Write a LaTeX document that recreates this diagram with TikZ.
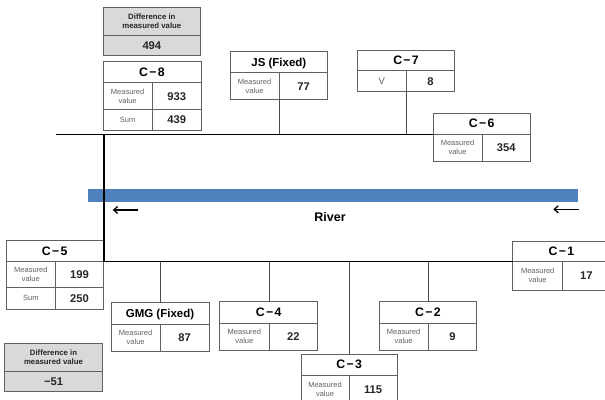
\documentclass[tikz,border=0pt]{standalone}
\usepackage{fontspec}
\setmainfont{Liberation Sans}
\usetikzlibrary{arrows.meta}
\tikzset{
 boxline/.style={draw=black!62, line width=0.8pt},
 difffill/.style={fill=black!15},
 ttl/.style={font=\fontsize{11.5}{13}\selectfont\bfseries, inner sep=0pt, text height=8.3pt, text depth=0pt},
 lbl/.style={font=\fontsize{7.5}{8.9}\selectfont, text=black!62, align=center, inner sep=0pt},
 val/.style={font=\fontsize{11.2}{13}\selectfont\bfseries, text=black!85, inner sep=0pt, text height=8pt, text depth=0pt},
 dtxt/.style={font=\fontsize{7.8}{9.8}\selectfont\bfseries, align=center, inner sep=0pt, text=black!85},
 bank/.style={line width=1.3pt, black},
 conn/.style={line width=0.8pt, black!70},
 riverbar/.style={fill={rgb,255:red,79;green,129;blue,189}, draw=none},
 flow/.style={line width=1.3pt, -{Straight Barb[length=4pt,width=7pt]}},
}
\def\lbltext{Measured\\value}
\newcommand{\cname}[1]{{\fontsize{12.3}{13}\selectfont C\kern1.3pt−\kern1.3pt#1}}
% #1 name, #2 x1, #3 x2, #4 xc, #5 ytop, #6 ydiv, #7 ybot, #8 title, #9 value
\newcommand{\twobox}[9]{%
 \path[boxline, fill=white] (#2,#5) rectangle (#3,#7);
 \draw[boxline] (#2,#6) -- (#3,#6) (#4,#6) -- (#4,#7);
 \coordinate (#1-cb) at (#4,#7);
 \coordinate (#1-ct) at (#4,#5);
 \coordinate (#1-w) at (#2,#6);
 \node[ttl] (#1) at ({(#2+#3)/2},{(#5+#6)/2}) {#8};
 \node[lbl] (#1-l) at ({(#2+#4)/2},{(#6+#7)/2}) {\lbltext};
 \node[val] (#1-v) at ({(#4+#3)/2},{(#6+#7)/2}) {#9};
}
% #1 name, #2 x1, #3 x2, #4 xc, #5 y1, #6 y2, #7 value
\newcommand{\sumrow}[7]{%
 \path[boxline, fill=white] (#2,#5) rectangle (#3,#6);
 \draw[boxline] (#4,#5) -- (#4,#6);
 \node[lbl] (#1-sl) at ({(#2+#4)/2},{(#5+#6)/2}) {Sum};
 \node[val] (#1-sv) at ({(#4+#3)/2},{(#5+#6)/2}) {#7};
}
% #1 name, #2 x1, #3 x2, #4 ytop, #5 ydiv, #6 ybot, #7 value
\newcommand{\diffbox}[7]{%
 \path[boxline, difffill] (#2,#4) rectangle (#3,#6);
 \draw[boxline] (#2,#5) -- (#3,#5);
 \node[dtxt] (#1) at ({(#2+#3)/2},{(#4+#5)/2}) {Difference in\\measured value};
 \node[val] (#1-v) at ({(#2+#3)/2},{(#5+#6)/2}) {#7};
}
\begin{document}
\begin{tikzpicture}[x=1pt,y=-1pt]
\useasboundingbox (0,0) rectangle (605,399);
\clip (0,0) rectangle (605,399);
\fill[white] (0,0) rectangle (605,399);

% river
\path[riverbar] (88.3,189.3) rectangle (578,201.7);
\node[font=\fontsize{12.5}{14}\selectfont\bfseries, inner sep=0pt] (river) at (330,216.7) {River};
\coordinate (a1s) at (138.3,210);
\coordinate (a1e) at (112.7,210);
\coordinate (a2s) at (578.7,209.3);
\coordinate (a2e) at (553.3,209.3);
\draw[flow] (a1s) -- (a1e);
\draw[flow] (a2s) -- (a2e);

% banks
\coordinate (tl) at (56,134.3);
\coordinate (tc) at (104,134.3);
\coordinate (bc) at (104,261.7);

% boxes
\diffbox{dtop}{103}{200.7}{7.3}{35}{55.7}{494}
\twobox{c8}{103}{201}{152.3}{61}{82.7}{109.3}{\cname{8}}{933}
\sumrow{c8}{103}{201}{152.3}{109.3}{130.3}{439}
\twobox{js}{230}{327.7}{279.3}{51.7}{72.7}{99.3}{JS (Fixed)}{77}
{\def\lbltext{\fontsize{9.5}{10}\selectfont V}%
\twobox{c7}{357.3}{454.7}{406.3}{50}{70.7}{91.7}{\cname{7}}{8}}
\twobox{c6}{433}{530.3}{482}{113}{134.3}{161}{\cname{6}}{354}
\twobox{c5}{6}{103.3}{55.7}{240.7}{261.7}{287.7}{\cname{5}}{199}
\sumrow{c5}{6}{103.3}{55.7}{287.7}{309}{250}
\diffbox{dbot}{4.7}{102.3}{343.3}{371}{391.7}{−51}
\twobox{gmg}{111}{209}{160.3}{302.7}{324}{351}{GMG (Fixed)}{87}
\twobox{c4}{219.7}{317.7}{269}{301.3}{323}{350}{\cname{4}}{22}
\twobox{c3}{301}{397.3}{349}{354}{375}{404}{\cname{3}}{115}
\twobox{c2}{379}{476.7}{428.3}{301.7}{323}{350}{\cname{2}}{9}
\twobox{c1}{512.7}{610}{562.7}{241}{261.5}{290}{\cname{1}}{17}

% bank lines
\draw[bank] (tl) -- (c6-w);
\draw[bank] (tc) -- (bc) -- (c1-w |- bc);

% connectors
\draw[conn] (js-cb) -- (js-cb |- tc);
\draw[conn] (c7-cb) -- (c7-cb |- tc);
\draw[conn] (gmg-ct) -- (gmg-ct |- bc);
\draw[conn] (c4-ct) -- (c4-ct |- bc);
\draw[conn] (c3-ct) -- (c3-ct |- bc);
\draw[conn] (c2-ct) -- (c2-ct |- bc);
\end{tikzpicture}
\end{document}
